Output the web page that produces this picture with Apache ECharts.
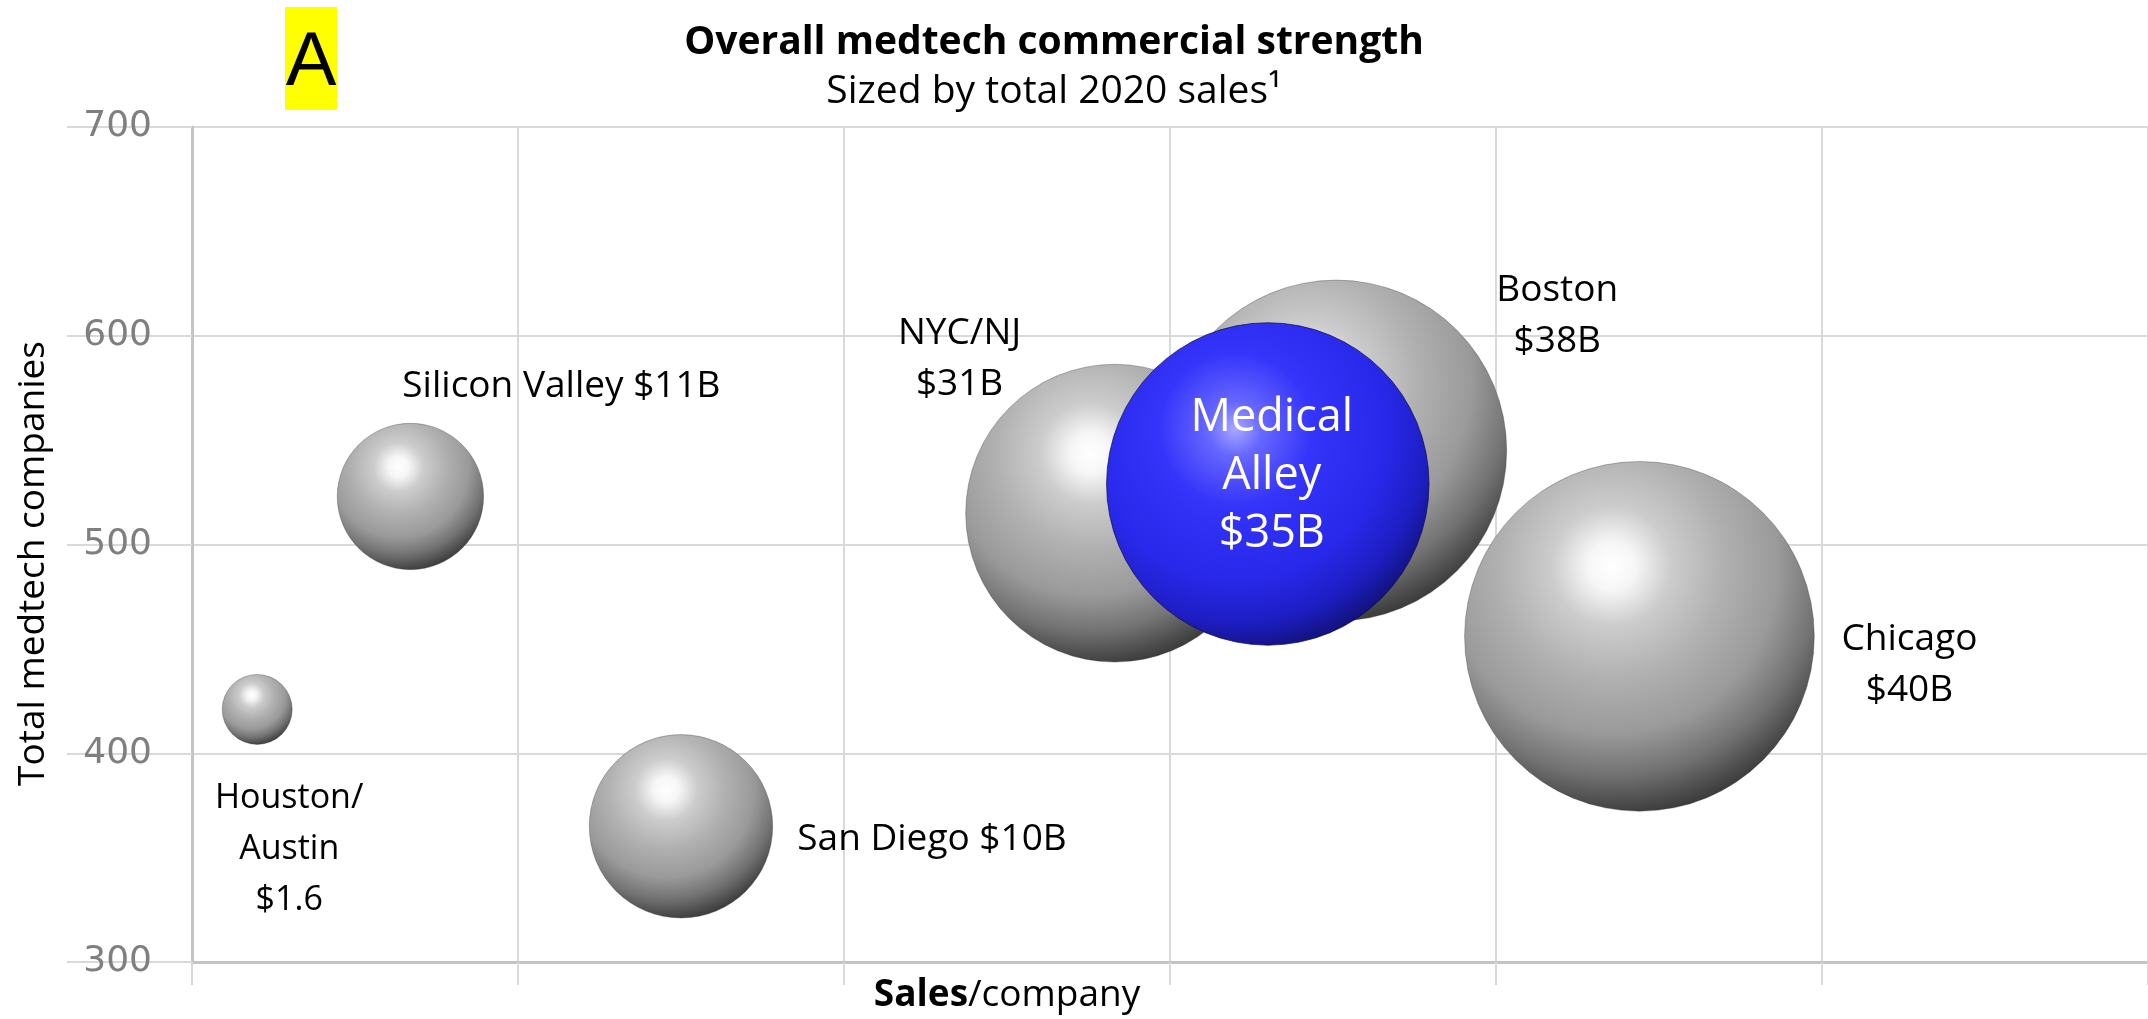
<!DOCTYPE html>
<html>
<head>
<meta charset="utf-8">
<script src="https://cdn.jsdelivr.net/npm/echarts@6/dist/echarts.min.js"></script>
<style>
  html, body { margin: 0; padding: 0; background: #fff; }
  #chart { width: 2148px; height: 1019px; }
</style>
</head>
<body>
<div id="chart"></div>
<script>
// values
const regions = ['Houston/\nAustin', 'Silicon Valley', 'San Diego', 'NYC/NJ', 'Boston', 'Chicago', 'Medical\nAlley'];
const salesText = ['$1.6', '$11B', '$10B', '$31B', '$38B', '$40B', '$35B'];
const salesPerCompany = [0.2, 0.67, 1.5, 2.83, 3.51, 4.44, 3.3];
const totalCompanies = [421, 523, 365, 515, 545, 456, 529];
const bubbleSize = [1.6, 7, 11, 29, 38, 40, 34];
const yTicks = [300, 400, 500, 600, 700];

// label placement, keyed by region
const labelPlace = {
    'Houston/\nAustin': {offset: [32, 140], sep: '\n', size: 34},
    'Silicon Valley': {offset: [151, -110], sep: ' ', size: 37},
    'San Diego': {offset: [251, 13], sep: ' ', size: 37},
    'NYC/NJ': {offset: [-155, -154], sep: '\n', size: 37},
    'Boston': {offset: [221, -135], sep: '\n', size: 37},
    'Chicago': {offset: [270, 29], sep: '\n', size: 37},
    'Medical\nAlley': {offset: [4, -8], sep: '\n', size: 45}
};

const grayBall = {
    type: 'radial', x: 0.42, y: 0.3, r: 0.85,
    colorStops: [
        {offset: 0, color: '#ffffff'},
        {offset: 0.08, color: '#f6f6f6'},
        {offset: 0.2, color: '#cccccc'},
        {offset: 0.38, color: '#b0b0b0'},
        {offset: 0.56, color: '#9a9a9a'},
        {offset: 0.7, color: '#727272'},
        {offset: 0.8, color: '#4a4a4a'},
        {offset: 0.86, color: '#333333'},
        {offset: 1, color: '#2a2a2a'}
    ]
};
const blueBall = {
    type: 'radial', x: 0.4, y: 0.33, r: 0.85,
    colorStops: [
        {offset: 0, color: '#a8a8ff'},
        {offset: 0.1, color: '#6666ff'},
        {offset: 0.28, color: '#3434fa'},
        {offset: 0.55, color: '#2828ea'},
        {offset: 0.7, color: '#1e1ec4'},
        {offset: 0.8, color: '#141488'},
        {offset: 0.86, color: '#0c0c5c'},
        {offset: 1, color: '#08083c'}
    ]
};

const data = regions.map(function (name, i) {
    const place = labelPlace[name];
    const isHome = name === 'Medical\nAlley';
    return {
        name: name,
        value: [salesPerCompany[i], totalCompanies[i], bubbleSize[i]],
        itemStyle: {
            color: isHome ? blueBall : grayBall,
            opacity: 1,
            borderColor: isHome ? 'rgba(10,10,70,0.7)' : 'rgba(60,60,60,0.35)',
            borderWidth: 1
        },
        label: {
            show: true,
            position: 'inside',
            offset: place.offset,
            formatter: name + place.sep + salesText[i],
            color: isHome ? '#ffffff' : '#000000',
            opacity: 1,
            fontSize: place.size,
            lineHeight: isHome ? 58 : 51
        }
    };
});

const chart = echarts.init(document.getElementById('chart'));

chart.setOption({
    animation: false,
    textStyle: {fontFamily: 'Open Sans'},
    title: {
        text: 'Overall medtech commercial strength',
        subtext: 'Sized by total 2020 sales\u00b9',
        left: 1049,
        textAlign: 'center',
        top: 18,
        itemGap: 10,
        textStyle: {fontFamily: 'Open Sans', fontWeight: 'bold', fontSize: 39, color: '#000'},
        subtextStyle: {fontFamily: 'Open Sans', fontSize: 39, color: '#000'}
    },
    graphic: [{
        type: 'group',
        left: 285,
        top: 7,
        children: [
            {type: 'rect', shape: {x: 0, y: 0, width: 52, height: 103}, style: {fill: '#ffff00'}},
            {type: 'text', x: 26, y: 57, style: {text: 'A', font: '76px "Liberation Sans"', fill: '#000', align: 'center', verticalAlign: 'middle'}}
        ]
    }],
    grid: {left: 192, right: 0, top: 127, bottom: 56},
    xAxis: {
        type: 'value',
        min: 0,
        max: 6,
        interval: 1,
        name: '{b|Sales}{r|/company}',
        nameLocation: 'middle',
        nameGap: 15,
        nameTextStyle: {
            padding: [0, 326, 0, 0],
            rich: {
                b: {fontFamily: 'Open Sans', fontWeight: 'bold', fontSize: 37, color: '#000'},
                r: {fontFamily: 'Open Sans', fontSize: 37, color: '#000'}
            }
        },
        axisLine: {lineStyle: {color: '#c4c4c4', width: 3}},
        axisTick: {show: true, length: 23, lineStyle: {color: '#d9d9d9', width: 2}},
        axisLabel: {show: false},
        splitLine: {show: true, lineStyle: {color: '#d9d9d9', width: 2}}
    },
    yAxis: {
        type: 'value',
        min: yTicks[0],
        max: yTicks[yTicks.length - 1],
        interval: 100,
        name: 'Total medtech companies',
        nameLocation: 'middle',
        nameRotate: 90,
        nameGap: 140,
        nameTextStyle: {fontFamily: 'Open Sans', fontSize: 37, color: '#000', padding: [0, 38, 0, 0]},
        axisLine: {show: true, lineStyle: {color: '#c4c4c4', width: 3}},
        axisTick: {show: true, length: 125, lineStyle: {color: '#d9d9d9', width: 2}},
        axisLabel: {margin: 40, fontFamily: 'DejaVu Sans', fontSize: 36, color: '#7f7f7f'},
        splitLine: {show: true, lineStyle: {color: '#d9d9d9', width: 2}}
    },
    series: [{
        type: 'scatter',
        symbol: 'circle',
        symbolSize: function (val) {
            return 55.3 * Math.sqrt(val[2]);
        },
        data: data
    }]
});
</script>
</body>
</html>
